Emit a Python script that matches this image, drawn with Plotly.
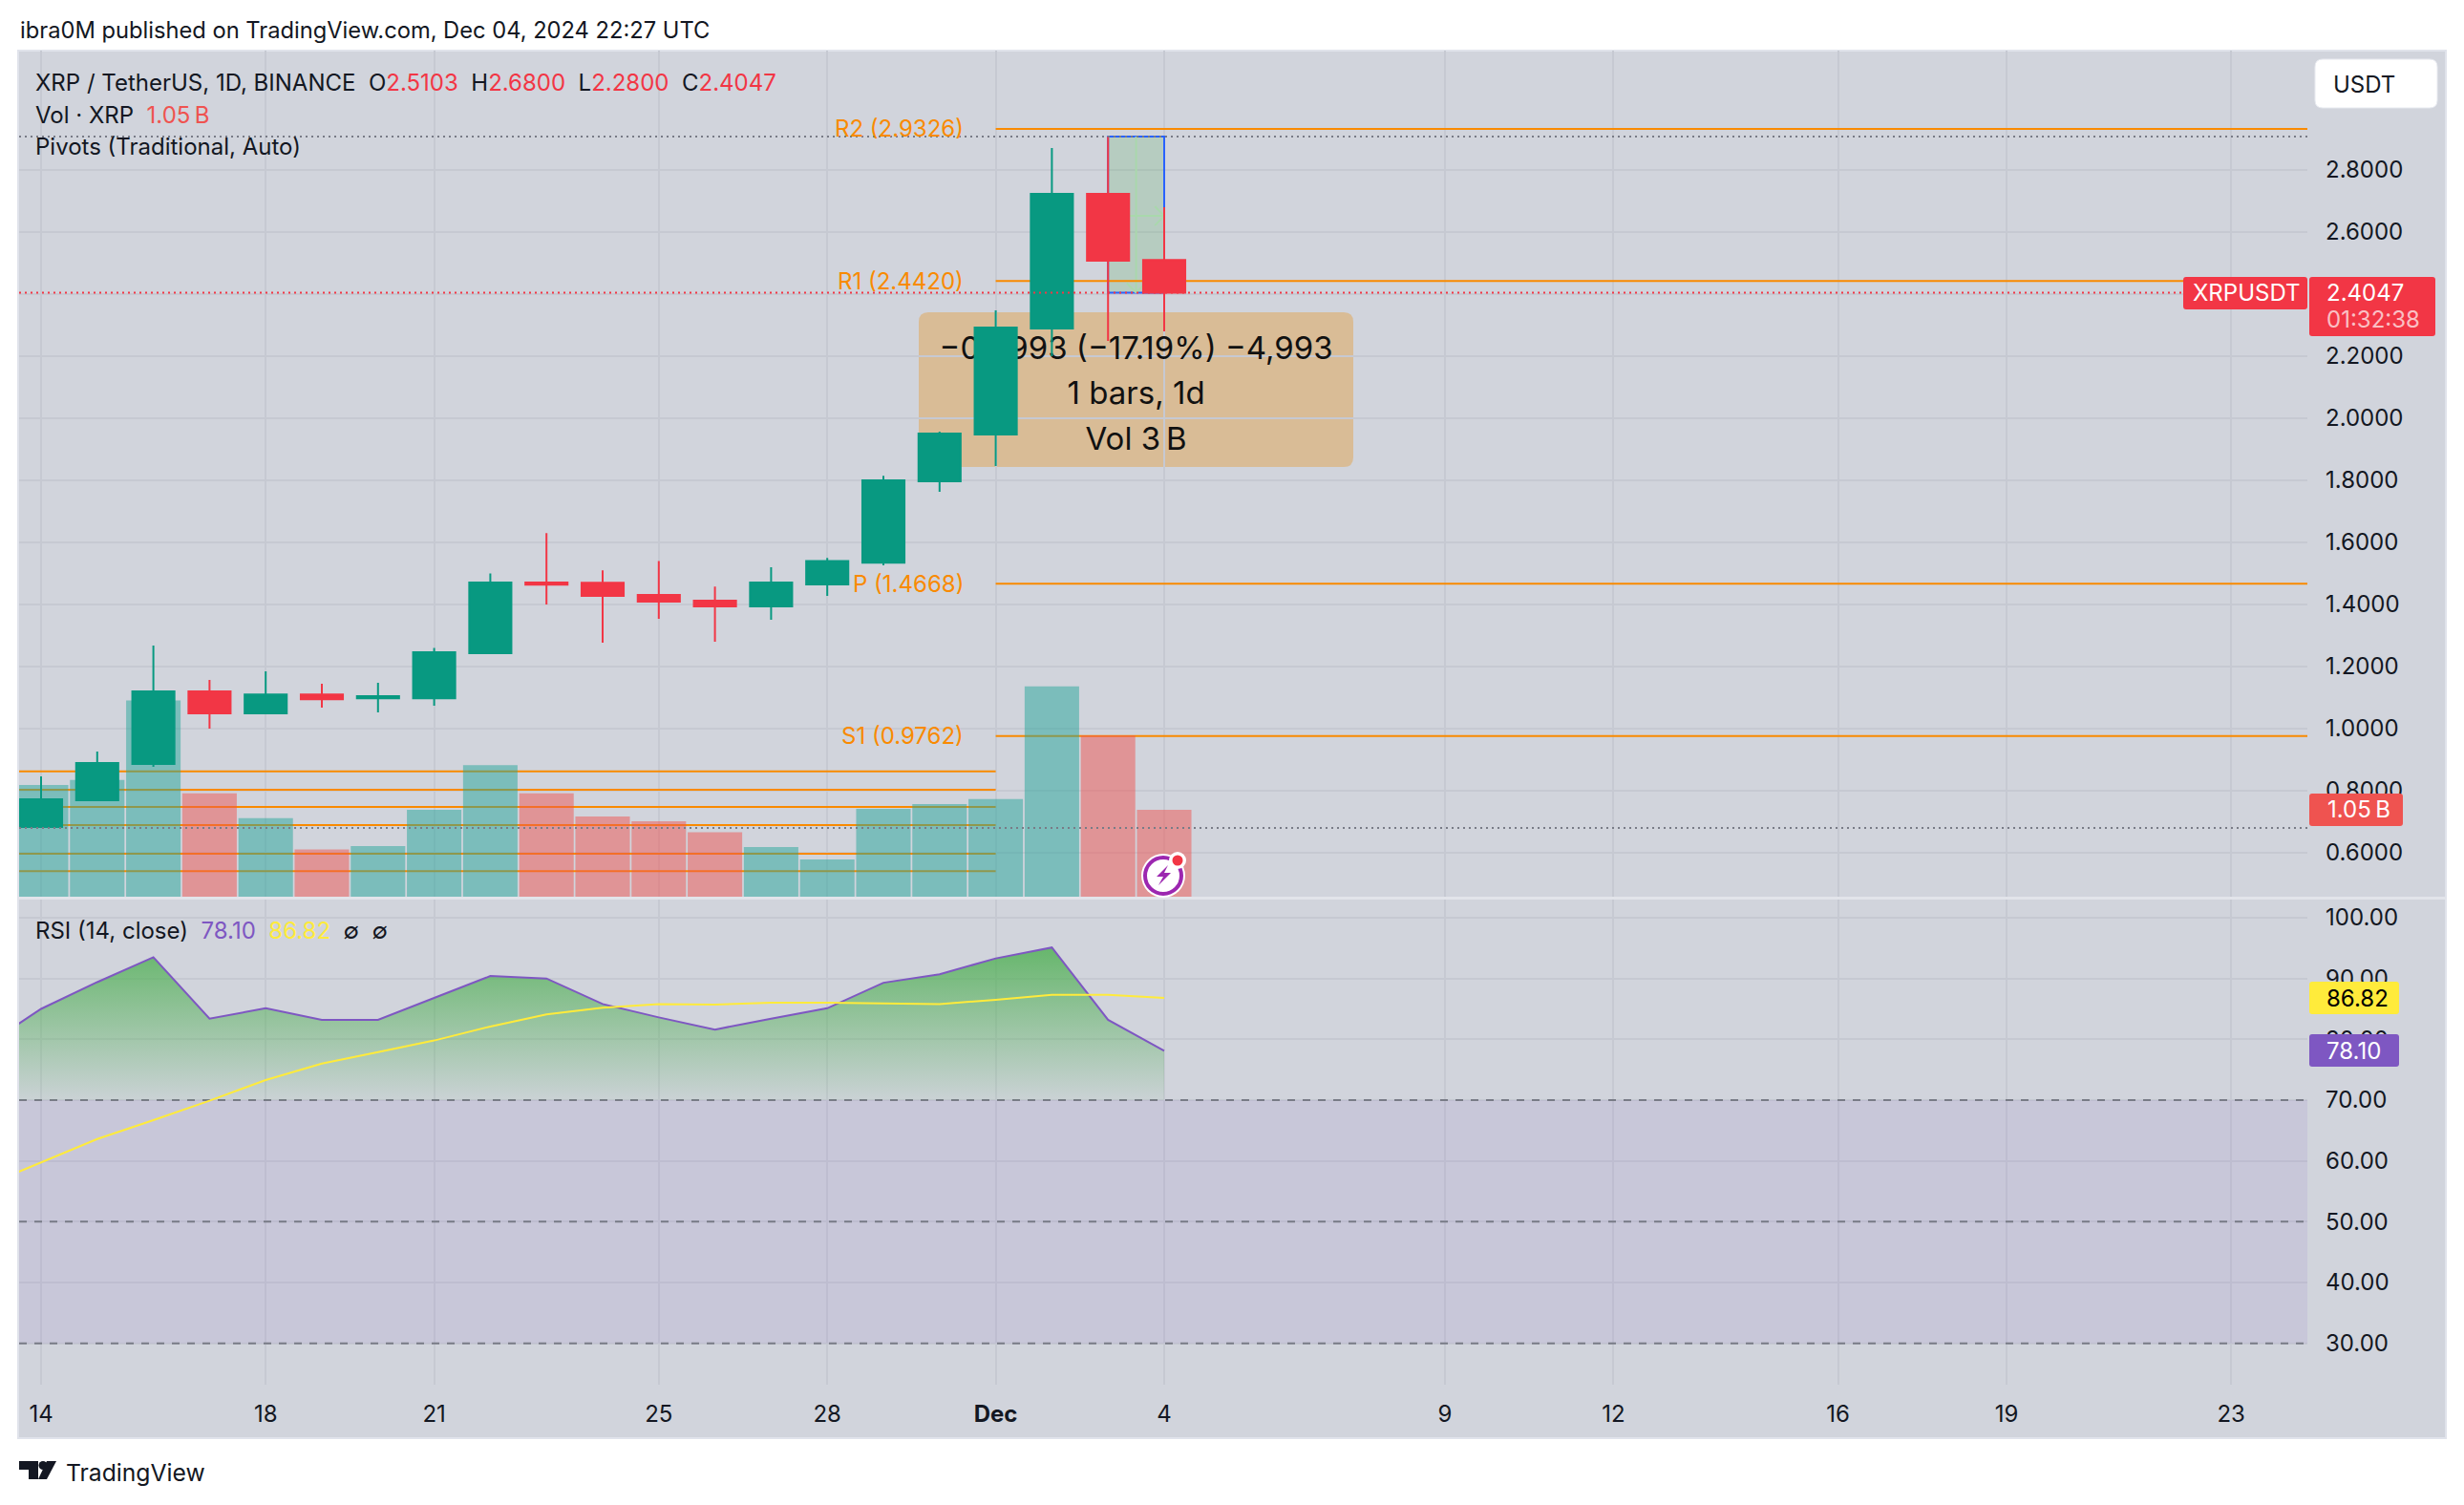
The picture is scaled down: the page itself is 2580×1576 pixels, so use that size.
#!/usr/bin/env python3
"""XRP / TetherUS daily chart with volume, pivots and RSI (TradingView screenshot)"""

import pandas as pd
import plotly.graph_objects as go

W, H = 2580, 1576

# Daily candles, Nov 14 - Dec 4 2024
dates = pd.date_range("2024-11-14", "2024-12-04", freq="D")
opens = [0.683, 0.769, 0.886, 1.120, 1.049, 1.110, 1.098, 1.098, 1.243, 1.471, 1.470,
         1.431, 1.412, 1.394, 1.465, 1.535, 1.797, 1.948, 2.289, 2.723, 2.5103]
highs = [0.846, 0.926, 1.268, 1.157, 1.185, 1.145, 1.148, 1.260, 1.500, 1.630, 1.510,
         1.540, 1.458, 1.520, 1.550, 1.815, 1.957, 2.348, 2.871, 2.908, 2.6800]
lows = [0.680, 0.769, 0.877, 1.000, 1.049, 1.068, 1.052, 1.074, 1.243, 1.400, 1.277,
        1.354, 1.280, 1.351, 1.428, 1.526, 1.763, 1.846, 2.200, 2.249, 2.2800]
closes = [0.772, 0.889, 1.120, 1.049, 1.110, 1.095, 1.105, 1.246, 1.471, 1.464, 1.428,
          1.409, 1.394, 1.471, 1.540, 1.800, 1.951, 2.292, 2.723, 2.508, 2.4047]
volumes = [1.35, 1.41, 2.37, 1.25, 0.95, 0.57, 0.61, 1.05, 1.59, 1.25, 0.97,
           0.91, 0.78, 0.60, 0.45, 1.06, 1.12, 1.18, 2.54, 1.95, 1.05]

# RSI starts one day earlier so the line runs off the left edge
rsi_dates = pd.date_range("2024-11-13", "2024-12-04", freq="D")
rsi = [78.9, 85.0, 89.4, 93.5, 83.4, 85.1, 83.2, 83.2, 86.8, 90.4, 90.0, 85.8,
       83.6, 81.6, 83.4, 85.1, 89.3, 90.7, 93.3, 95.1, 83.2, 78.10]
rsi_ma = [55.9, 59.8, 63.6, 66.7, 69.9, 73.3, 76.0, 77.9, 79.8, 82.1, 84.1, 85.2,
          85.8, 85.7, 86.0, 86.0, 85.9, 85.8, 86.5, 87.3, 87.3, 86.82]

# Pivot levels: November period on the left, December period on the right
pivot_names = ["R2", "R1", "P", "S1"]
pivot_levels = [2.9326, 2.4420, 1.4668, 0.9762]
old_pivot_levels = [0.862, 0.803, 0.748, 0.689, 0.597, 0.541]

last_close = 2.4047
high_line = 2.908
vol_line = 0.680
price_ticks = [0.6, 0.8, 1.0, 1.2, 1.4, 1.6, 1.8, 2.0, 2.2, 2.4, 2.6, 2.8]
rsi_ticks = [30, 40, 50, 60, 70, 80, 90, 100]
time_ticks = ["2024-11-14", "2024-11-18", "2024-11-21", "2024-11-25", "2024-11-28", "2024-12-01",
              "2024-12-04", "2024-12-09", "2024-12-12", "2024-12-16", "2024-12-19", "2024-12-23"]
time_labels = ["14", "18", "21", "25", "28", "<b>Dec</b>", "4", "9", "12", "16", "19", "23"]

PANE = "#d1d4dc"
GRID = "#c6c9d2"
INK = "#131722"
GREEN = "#089981"
RED = "#f23645"
ORANGE = "#f98a00"
PURPLE = "#7e57c2"
YELLOW = "#ffeb3b"
VOL_RED = "#ef5350"
FONT = "Inter"

X_START = (pd.Timestamp("2024-11-14") - pd.Timedelta(days=23 / 58.8)).floor("s")
X_END = (pd.Timestamp("2024-11-14") + pd.Timedelta(days=2373 / 58.8)).floor("s")
DEC_1 = pd.Timestamp("2024-12-01")


def px(x):
    return x / W


def py(y):
    return 1 - y / H


def rounded(x0, y0, x1, y1, r):
    """SVG path of a rounded rectangle, given in screen pixels"""
    a, b, c, d = px(x0), py(y0), px(x1), py(y1)
    rx, ry = r / W, r / H
    return (f"M {a + rx} {b} L {c - rx} {b} Q {c} {b} {c} {b - ry} L {c} {d + ry} Q {c} {d} {c - rx} {d} "
            f"L {a + rx} {d} Q {a} {d} {a} {d + ry} L {a} {b - ry} Q {a} {b} {a + rx} {b} Z")


def polygon(points):
    return "M " + " L ".join(f"{px(x)} {py(y)}" for x, y in points) + " Z"


def paper_shape(**kwargs):
    return dict(xref="paper", yref="paper", **kwargs)


def circle(cx, cy, r, **kwargs):
    return paper_shape(type="circle", x0=px(cx - r), x1=px(cx + r), y0=py(cy + r), y1=py(cy - r), **kwargs)


def label(x, y, text, size=24, color=INK, anchor="left", **kwargs):
    return dict(x=px(x), y=py(y), xref="paper", yref="paper", text=text, showarrow=False, xanchor=anchor,
                yanchor="middle", font=dict(family=FONT, size=size, color=color), **kwargs)


fig = go.Figure()

# Base subplot: pivots and the measure text, everything else sits above it
for level in old_pivot_levels:
    fig.add_trace(go.Scatter(x=[X_START, DEC_1], y=[level, level], mode="lines",
                             line=dict(color=ORANGE, width=2), hoverinfo="skip"))
for level in pivot_levels:
    fig.add_trace(go.Scatter(x=[DEC_1, X_END], y=[level, level], mode="lines",
                             line=dict(color=ORANGE, width=2), hoverinfo="skip"))

measure_x = pd.Timestamp("2024-12-03 12:00")
fig.add_trace(go.Scatter(
    x=[measure_x] * 3,
    y=[2.215, 2.072, 1.923],
    mode="text",
    text=["−0.4993 (−17.19%) −4,993", "1 bars, 1d", "Vol 3\u202fB"],
    textposition="middle center",
    textfont=dict(family=FONT, size=33, color="#111"),
    hoverinfo="skip",
))

# Volume on its own overlay
fig.add_trace(go.Bar(
    x=dates, y=volumes, yaxis="y3",
    marker=dict(color=["rgba(38,166,154,0.5)" if c >= o else "rgba(239,83,80,0.5)" for o, c in zip(opens, closes)],
                line=dict(width=0)),
    hoverinfo="skip",
))

# Candles
fig.add_trace(go.Candlestick(
    x=dates, open=opens, high=highs, low=lows, close=closes, yaxis="y4",
    increasing=dict(line=dict(color=GREEN, width=2), fillcolor=GREEN),
    decreasing=dict(line=dict(color=RED, width=2), fillcolor=RED),
    whiskerwidth=0,
    hoverinfo="skip",
))

# Dotted price lines
for level, color in [(high_line, "#787b86"), (last_close, RED), (vol_line, "#787b86")]:
    fig.add_trace(go.Scatter(x=[X_START, X_END], y=[level, level], yaxis="y4", mode="lines",
                             line=dict(color=color, width=2, dash="2px,4px"), hoverinfo="skip"))

# RSI pane
fig.add_trace(go.Scatter(x=rsi_dates, y=[70] * len(rsi), yaxis="y2", mode="lines",
                         line=dict(width=0), hoverinfo="skip"))
fig.add_trace(go.Scatter(
    x=rsi_dates, y=rsi, yaxis="y2", mode="lines",
    line=dict(color=PURPLE, width=2),
    fill="tonexty",
    fillgradient=dict(type="vertical", start=70, stop=95.1,
                      colorscale=[[0, "rgba(76,175,80,0.05)"], [1, "rgba(76,175,80,0.8)"]]),
    hoverinfo="skip",
))
fig.add_trace(go.Scatter(x=rsi_dates, y=rsi_ma, yaxis="y2", mode="lines",
                         line=dict(color=YELLOW, width=2), hoverinfo="skip"))

shapes = [
    # chart frame and pane separator
    paper_shape(type="rect", x0=px(19), x1=px(2561), y0=py(1506), y1=py(53), fillcolor=PANE,
                line=dict(color="#e0e3eb", width=2), layer="below"),
    paper_shape(type="path", path=rounded(962, 327, 1417, 489, 10), fillcolor="#d9bc96", line=dict(width=0),
                layer="below"),
    paper_shape(type="line", x0=px(19), x1=px(2561), y0=py(940.5), y1=py(940.5),
                line=dict(color="#e2e4ea", width=3), layer="above"),
    # RSI band
    dict(type="rect", xref="x", yref="y2", x0=X_START, x1=X_END, y0=30, y1=70, fillcolor="rgba(126,87,194,0.1)",
         line=dict(width=0), layer="between"),
]
for level in [70, 50, 30]:
    shapes.append(dict(type="line", xref="x", yref="y2", x0=X_START, x1=X_END, y0=level, y1=level,
                       line=dict(color="#787b86", width=2, dash="8px,8px"), layer="between"))

# Measure tool between Dec 3 and Dec 4
m0, m1 = pd.Timestamp("2024-12-03"), pd.Timestamp("2024-12-04")
shapes.append(dict(type="rect", xref="x", yref="y", x0=m0, x1=m1, y0=last_close, y1=high_line,
                   fillcolor="rgba(76,175,80,0.2)", line=dict(color="#2962ff", width=2), layer="between"))
arrow_y = 2.652
head_dx, head_dy = pd.Timedelta(hours=4), 0.031
for x0, y0, x1, y1 in [
    (measure_x, high_line, measure_x, last_close),
    (measure_x - head_dx, last_close + head_dy, measure_x, last_close),
    (measure_x + head_dx, last_close + head_dy, measure_x, last_close),
    (m0, arrow_y, m1, arrow_y),
    (m1 - head_dx, arrow_y + head_dy, m1, arrow_y),
    (m1 - head_dx, arrow_y - head_dy, m1, arrow_y),
]:
    shapes.append(dict(type="line", xref="x", yref="y", x0=x0, x1=x1, y0=y0, y1=y1,
                       line=dict(color="#a9d8ac", width=2), layer="between"))

# Price scale badges
shapes += [
    paper_shape(type="path", path=rounded(2424, 62, 2552, 113, 8), fillcolor="white",
                line=dict(color="#e8eaf0", width=1), layer="above"),
    paper_shape(type="path", path=rounded(2286, 290, 2416, 324, 3), fillcolor=RED, line=dict(width=0), layer="above"),
    paper_shape(type="path", path=rounded(2418, 290, 2550, 352, 3), fillcolor=RED, line=dict(width=0), layer="above"),
    paper_shape(type="path", path=rounded(2418, 831, 2516, 865, 3), fillcolor=VOL_RED, line=dict(width=0),
                layer="above"),
    paper_shape(type="path", path=rounded(2418, 1028, 2512, 1062, 3), fillcolor=YELLOW, line=dict(width=0),
                layer="above"),
    paper_shape(type="path", path=rounded(2418, 1083, 2512, 1117, 3), fillcolor=PURPLE, line=dict(width=0),
                layer="above"),
]

# Lightning badge on the last bar
shapes += [
    circle(1218, 917, 23, fillcolor="white", line=dict(width=0), layer="above"),
    circle(1218, 917, 19, fillcolor="white", line=dict(color="#9c27b0", width=4), layer="above"),
    paper_shape(type="path", path=polygon([(1223, 906), (1211, 918), (1218, 918), (1213, 927), (1226, 914), (1219, 914)]),
                fillcolor="#9c27b0", line=dict(width=0), layer="above"),
    circle(1233, 901, 9, fillcolor="white", line=dict(width=0), layer="above"),
    circle(1233, 901, 5.5, fillcolor=RED, line=dict(width=0), layer="above"),
]

# TradingView logo
shapes += [
    paper_shape(type="path", path=polygon([(20, 1530), (40, 1530), (40, 1549), (30, 1549), (30, 1539), (20, 1539)]),
                fillcolor=INK, line=dict(width=0)),
    circle(45, 1534.5, 4.5, fillcolor=INK, line=dict(width=0)),
    paper_shape(type="path", path=polygon([(49, 1530), (59, 1530), (49, 1549), (40, 1549)]),
                fillcolor=INK, line=dict(width=0)),
]

legend_line = (
    "XRP / TetherUS, 1D, BINANCE  "
    + "  ".join(f"{name}<span style='color:{RED}'>{value}</span>"
                for name, value in [("O", "2.5103"), ("H", "2.6800"), ("L", "2.2800"), ("C", "2.4047")])
)
annotations = [
    label(19, 31, "ibra0M published on TradingView.com, Dec 04, 2024 22:27 UTC", size=23.7),
    label(35, 86, legend_line, size=24),
    label(35, 120, f"Vol · XRP  <span style='color:{VOL_RED}'>1.05\u202fB</span>", size=24),
    label(35, 154, "Pivots (Traditional, Auto)", size=24),
    label(35, 974, f"RSI (14, close)  <span style='color:{PURPLE}'>78.10</span>  "
                   f"<span style='color:{YELLOW}'>86.82</span>  ∅  ∅", size=24),
    label(66.5, 1542, "TradingView", size=24.7),
    label(2441, 88, "USDT", size=24),
    label(2294, 307, "XRPUSDT", size=24, color="white"),
    label(2434, 307, "2.4047", size=24, color="white"),
    label(2434, 335, "01:32:38", size=24, color="rgba(255,255,255,0.7)"),
    label(2435, 848, "1.05\u202fB", size=24, color="white"),
    label(2434, 1045, "86.82", size=24, color="#000"),
    label(2434, 1100, "78.10", size=24, color="white"),
]
for name, level in zip(pivot_names, pivot_levels):
    annotations.append(dict(x=px(1011), y=level, xref="paper", yref="y", text=f"{name} ({level:.4f})",
                            showarrow=False, xanchor="right", yanchor="middle",
                            font=dict(family=FONT, size=24, color=ORANGE)))

fig.update_layout(
    width=W,
    height=H,
    margin=dict(l=0, r=0, t=0, b=0),
    paper_bgcolor="white",
    plot_bgcolor="rgba(0,0,0,0)",
    showlegend=False,
    font=dict(family=FONT, size=24, color=INK),
    bargap=0.03,
    boxgap=0.25,
    boxgroupgap=0,
    shapes=shapes,
    annotations=annotations,
    xaxis=dict(
        type="date", domain=[px(20), px(2416)], range=[X_START, X_END], anchor="y2",
        tickmode="array", tickvals=time_ticks, ticktext=time_labels, ticks="",
        ticklabelstandoff=14, showgrid=True, gridcolor=GRID, gridwidth=2, zeroline=False,
        showline=False, rangeslider=dict(visible=False),
    ),
    yaxis=dict(
        domain=[py(939), py(53)], range=[0.4585, 3.1846], side="right", anchor="x",
        tickmode="array", tickvals=price_ticks, tickformat=".4f", ticks="", ticklabelstandoff=18,
        showgrid=True, gridcolor=GRID, gridwidth=2, zeroline=False, showline=False,
    ),
    yaxis2=dict(
        domain=[py(1450), py(942)], range=[23.2, 102.98], side="right", anchor="x",
        tickmode="array", tickvals=rsi_ticks, tickformat=".2f", ticks="", ticklabelstandoff=18,
        showgrid=True, gridcolor=GRID, gridwidth=2, zeroline=False, showline=False,
    ),
    yaxis3=dict(overlaying="y", range=[0, 10.22], visible=False, showgrid=False),
    yaxis4=dict(overlaying="y", range=[0.4585, 3.1846], visible=False, showgrid=False),
)

# the page body has a default margin that would shift the whole chart
fig.write_html("out.html", config=dict(displayModeBar=False), post_script="document.body.style.margin = '0';")
